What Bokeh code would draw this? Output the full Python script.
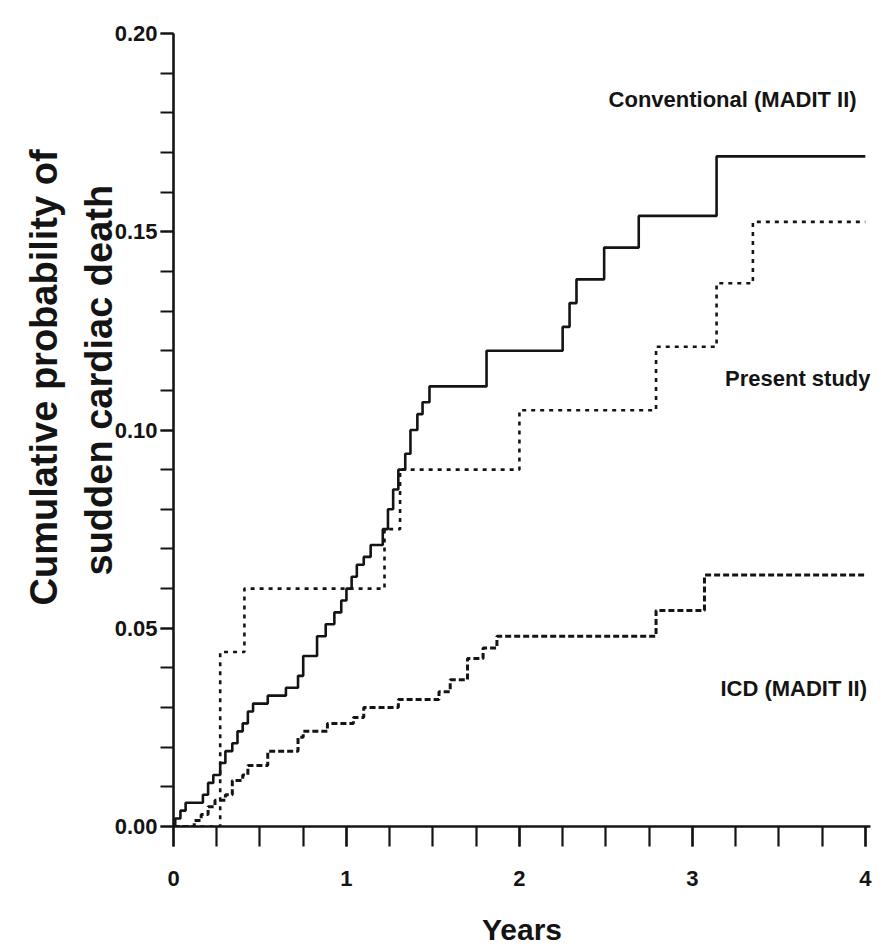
import math
from bokeh.plotting import figure
from bokeh.models import FixedTicker, NumeralTickFormatter, Label, Range1d, Title
from bokeh.embed import file_html
from bokeh.resources import INLINE

# ---- data ----
followup_end = 4.0

conv_times = [0.01, 0.04, 0.07, 0.17, 0.20, 0.23, 0.27, 0.30, 0.34, 0.37, 0.40, 0.43, 0.46,
              0.545, 0.65, 0.72, 0.75, 0.83, 0.88, 0.93, 0.97, 1.00, 1.03, 1.06, 1.10, 1.14,
              1.21, 1.24, 1.27, 1.30, 1.34, 1.37, 1.41, 1.44, 1.48, 1.81, 2.25, 2.29, 2.33,
              2.49, 2.69, 3.14]
conv_prob = [0.002, 0.004, 0.006, 0.008, 0.011, 0.013, 0.016, 0.019, 0.021, 0.024, 0.026, 0.029, 0.031,
             0.033, 0.035, 0.038, 0.043, 0.048, 0.051, 0.054, 0.057, 0.060, 0.063, 0.066, 0.068, 0.071,
             0.075, 0.080, 0.085, 0.090, 0.094, 0.100, 0.104, 0.107, 0.111, 0.120, 0.126, 0.132, 0.138,
             0.146, 0.154, 0.169]

present_times = [0.27, 0.41, 1.22, 1.31, 2.00, 2.79, 3.14, 3.35]
present_prob = [0.044, 0.060, 0.075, 0.090, 0.105, 0.121, 0.137, 0.1525]

icd_times = [0.12, 0.16, 0.20, 0.24, 0.30, 0.34, 0.40, 0.43, 0.545, 0.72, 0.75, 0.89, 1.04, 1.10,
             1.30, 1.535, 1.60, 1.70, 1.79, 1.87, 2.79, 3.07]
icd_prob = [0.0015, 0.003, 0.005, 0.0066, 0.008, 0.0116, 0.013, 0.0154, 0.019, 0.0225, 0.024, 0.026,
            0.0275, 0.030, 0.032, 0.034, 0.037, 0.0424, 0.045, 0.048, 0.0545, 0.0634]

series_names = ["Conventional (MADIT II)", "Present study", "ICD (MADIT II)"]
y_title_lines = ["Cumulative probability of", "sudden cardiac death"]
x_title = "Years"
x_tick_values = [0, 1, 2, 3, 4]
x_minor_values = [i * 0.25 for i in range(17)]
y_tick_values = [0.0, 0.05, 0.10, 0.15, 0.20]
y_minor_values = [i * 0.01 for i in range(21)]

FONT = "Liberation Sans"
INK = "#141414"

def km(times, probs, end):
    return [0.0] + list(times) + [end], [0.0] + list(probs) + [probs[-1]]

p = figure(frame_width=697, frame_height=793, output_backend="svg", toolbar_location=None,
           x_range=Range1d(0, 4.03), y_range=Range1d(0, 0.20),
           min_border_left=173, min_border_right=14, min_border_top=33, min_border_bottom=124)
p.outline_line_color = None
p.xgrid.visible = False
p.ygrid.visible = False
p.background_fill_color = "white"
p.border_fill_color = "white"

xs, ys = km(conv_times, conv_prob, followup_end)
p.step(xs, ys, mode="after", line_color=INK, line_width=2.6)
xs, ys = km(present_times, present_prob, followup_end)
p.step(xs, ys, mode="after", line_color=INK, line_width=2.6, line_dash="4 5")
xs, ys = km(icd_times, icd_prob, followup_end)
p.step(xs, ys, mode="after", line_color=INK, line_width=3, line_dash="6 3")

for ax in (p.xaxis[0], p.yaxis[0]):
    ax.axis_line_width = 2.6
    ax.axis_line_color = INK
    ax.major_tick_line_width = 2.2
    ax.minor_tick_line_width = 2.2
    ax.major_tick_line_color = INK
    ax.minor_tick_line_color = INK
    ax.major_tick_in = 0
    ax.minor_tick_in = 0
    ax.major_label_text_font = FONT
    ax.major_label_text_font_style = "bold"
    ax.major_label_text_font_size = "22px"
    ax.major_label_text_color = INK

xa = p.xaxis[0]
xa.ticker = FixedTicker(ticks=x_tick_values, minor_ticks=x_minor_values)
xa.major_tick_out = 20
xa.minor_tick_out = 20
xa.major_label_standoff = 24
xa.axis_label = x_title
xa.axis_label_text_font = FONT
xa.axis_label_text_font_style = "bold"
xa.axis_label_text_font_size = "30px"
xa.axis_label_text_color = INK
xa.axis_label_standoff = 24

ya = p.yaxis[0]
ya.ticker = FixedTicker(ticks=y_tick_values, minor_ticks=y_minor_values)
ya.formatter = NumeralTickFormatter(format="0.00")
ya.major_tick_out = 13
ya.minor_tick_out = 13
ya.major_label_standoff = 3

# y-axis title: two separated lines stacked on the left side
t2 = Title(text=y_title_lines[1], align="left", offset=251, standoff=-16,
           text_font=FONT, text_font_style="bold", text_font_size="38px", text_color=INK)
t1 = Title(text=y_title_lines[0], align="left", offset=221, standoff=38,
           text_font=FONT, text_font_style="bold", text_font_size="38px", text_color=INK)
p.add_layout(t2, "left")
p.add_layout(t1, "left")

# series labels
label_pos = [(3.95, 0.1833), (4.03, 0.1131), (4.01, 0.0348)]
for name, (lx, ly) in zip(series_names, label_pos):
    p.add_layout(Label(x=lx, y=ly, text=name, text_align="right", text_baseline="middle",
                       text_font=FONT, text_font_style="bold", text_font_size="22px",
                       text_color=INK))

open("out.html", "w").write(file_html(p, INLINE))
